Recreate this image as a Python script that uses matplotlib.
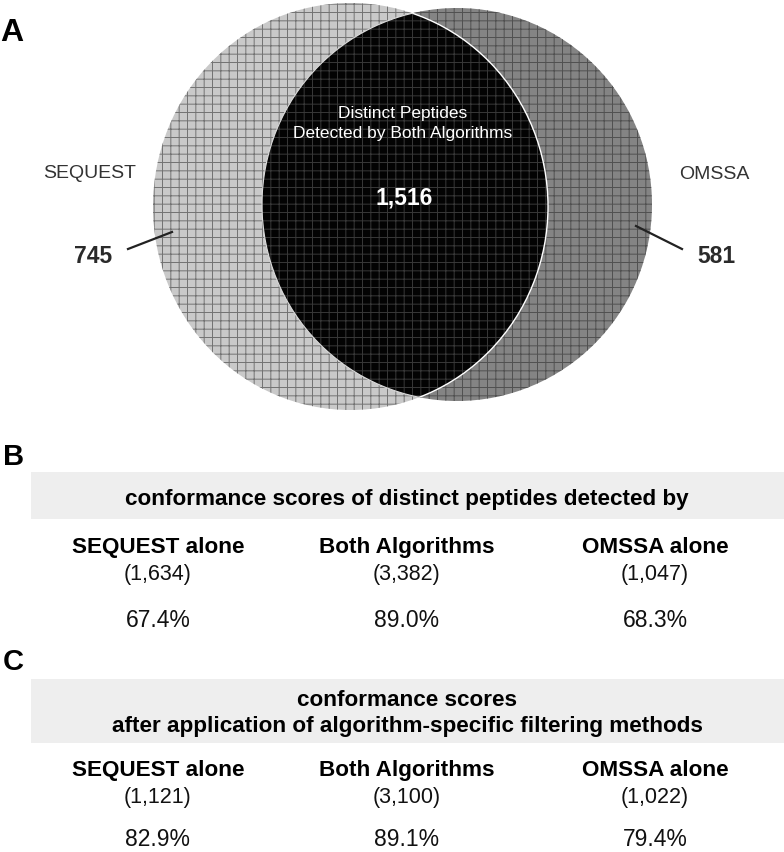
import matplotlib
matplotlib.use("Agg")
import matplotlib.pyplot as plt
from matplotlib.patches import Ellipse, Rectangle

plt.rcParams['font.family'] = ['Liberation Sans', 'DejaVu Sans']
plt.rcParams['hatch.linewidth'] = 0.7

# ---- data ----
venn_labels = ['SEQUEST', 'OMSSA']
venn_only = [745, 581]
venn_both = 1516
lens_caption = ['Distinct Peptides', 'Detected by Both Algorithms']

columns = ['SEQUEST alone', 'Both Algorithms', 'OMSSA alone']
title_B = 'conformance scores of distinct peptides detected by'
counts_B = [1634, 3382, 1047]
scores_B = [67.4, 89.0, 68.3]
title_C = 'conformance scores\nafter application of algorithm-specific filtering methods'
counts_C = [1121, 3100, 1022]
scores_C = [82.9, 89.1, 79.4]

W, H = 784, 852
fig = plt.figure(figsize=(W / 100, H / 100), dpi=100)
ax = fig.add_axes([0, 0, 1, 1])
ax.set_xlim(0, W)
ax.set_ylim(H, 0)
ax.axis('off')

# ---- Panel A: Venn ----
left_geom = dict(xy=(350.5, 206.5), width=395, height=407)
right_geom = dict(xy=(457, 204.5), width=390, height=393)

left_fill = Ellipse(**left_geom, facecolor='#c9c9c9', edgecolor='none', zorder=1)
right_fill = Ellipse(**right_geom, facecolor='#848484', edgecolor='none', zorder=1)
ax.add_patch(left_fill)
ax.add_patch(right_fill)
ax.add_patch(Ellipse(**left_geom, facecolor='none', edgecolor='#727272', lw=0, hatch='++', zorder=2))
ax.add_patch(Ellipse(**right_geom, facecolor='none', edgecolor='#505050', lw=0, hatch='++', zorder=2))

# lens (intersection)
clip_r = Ellipse(**right_geom, transform=ax.transData)
lens = Ellipse(**left_geom, facecolor='#030303', edgecolor='none', zorder=3)
ax.add_patch(lens)
lens.set_clip_path(clip_r)
lens_h = Ellipse(**left_geom, facecolor='none', edgecolor='#383838', lw=0, hatch='++', zorder=4)
ax.add_patch(lens_h)
lens_h.set_clip_path(Ellipse(**right_geom, transform=ax.transData))
e1 = Ellipse(**left_geom, facecolor='none', edgecolor='white', lw=1.0, zorder=5)
ax.add_patch(e1)
e1.set_clip_path(Ellipse(**right_geom, transform=ax.transData))
e2 = Ellipse(**right_geom, facecolor='none', edgecolor='#dddddd', lw=0.8, zorder=5)
ax.add_patch(e2)
e2.set_clip_path(Ellipse(**left_geom, transform=ax.transData))

ax.text(0, 41, 'A', fontsize=23, fontweight='bold', ha='left', va='baseline')
ax.text(90, 178, venn_labels[0], fontsize=14, color='#333333', ha='center', va='baseline')
ax.text(714, 179, venn_labels[1], fontsize=14, color='#333333', ha='center', va='baseline')
ax.text(93, 263, f'{venn_only[0]:,}', fontsize=16.5, fontweight='bold', color='#2a2a2a', ha='center', va='baseline')
ax.text(716, 263, f'{venn_only[1]:,}', fontsize=16.5, fontweight='bold', color='#2a2a2a', ha='center', va='baseline')
ax.plot([128, 172], [249, 232], color='#222222', lw=1.6, zorder=6)
ax.plot([636, 682], [226, 249], color='#222222', lw=1.6, zorder=6)
ax.text(403, 118, lens_caption[0], fontsize=12.5, color='white', ha='center', va='baseline', zorder=7)
ax.text(403, 138, lens_caption[1], fontsize=12.5, color='white', ha='center', va='baseline', zorder=7)
ax.text(404, 204, f'{venn_both:,}', fontsize=16.5, fontweight='bold', color='white', ha='center', va='baseline', zorder=7)

# ---- Panels B and C ----
col_x = [158, 407, 655]


def panel(letter, letter_y, box_top, box_bot, title, title_ys, counts, scores, ys):
    ax.text(3, letter_y, letter, fontsize=21, fontweight='bold', ha='left', va='baseline')
    ax.add_patch(Rectangle((31, box_top), W - 31, box_bot - box_top, facecolor='#eeeeee', edgecolor='none'))
    for line, ty in zip(title.split('\n'), title_ys):
        ax.text(407, ty, line, fontsize=16.2, fontweight='bold', ha='center', va='baseline')
    for x, name, c, s in zip(col_x, columns, counts, scores):
        ax.text(x, ys[0], name, fontsize=16.2, fontweight='bold', ha='center', va='baseline')
        ax.text(x, ys[1], f'({c:,})', fontsize=15.5, ha='center', va='baseline', color='#111111')
        ax.text(x, ys[2], f'{s:.1f}%', fontsize=16.5, ha='center', va='baseline', color='#111111')


panel('B', 465, 472, 519, title_B, [505], counts_B, scores_B, [553, 580, 627])
panel('C', 670, 679, 743, title_C, [706, 732], counts_C, scores_C, [776, 803, 846])

fig.savefig('out.png', dpi=100)
